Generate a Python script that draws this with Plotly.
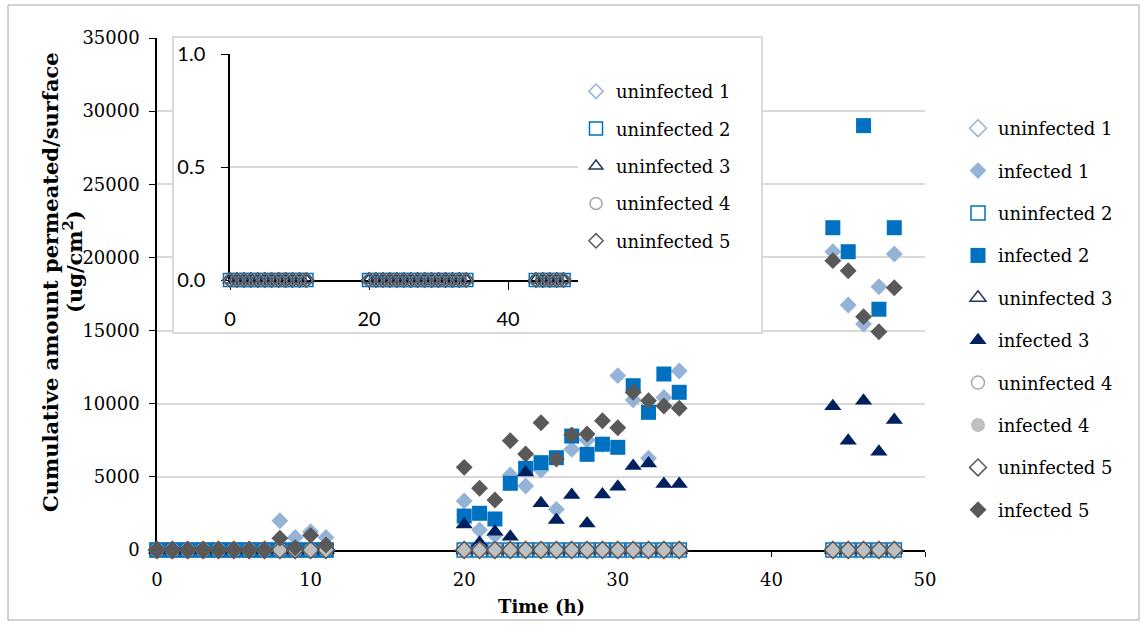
import plotly.graph_objects as go

# ---------------- data ----------------
time_h = [0, 1, 2, 3, 4, 5, 6, 7, 8, 9, 10, 11,
          20, 21, 22, 23, 24, 25, 26, 27, 28, 29, 30, 31, 32, 33, 34,
          44, 45, 46, 47, 48]

zeros = [0, 0, 0, 0, 0, 0, 0, 0, 0, 0, 0, 0,
         0, 0, 0, 0, 0, 0, 0, 0, 0, 0, 0, 0, 0, 0, 0,
         0, 0, 0, 0, 0]

uninfected_1 = zeros
uninfected_2 = zeros
uninfected_3 = zeros
uninfected_4 = zeros
uninfected_5 = zeros

infected_1 = [0, 0, 0, 0, 0, 0, 0, 0, 2000, 850, 1250, 850,
              3350, 1370, 1000, 5130, 4380, 5470, 2780, 6880, 7520, 7200, 11920, 10260, 6270, 10420, 12240,
              20390, 16750, 15450, 18000, 20230]
infected_2 = [0, 0, 0, 0, 0, 0, 0, 0, 0, 0, 0, 0,
              2320, 2510, 2120, 4560, 5580, 5970, 6310, 7790, 6540, 7230, 7020, 11230, 9410, 12030, 10780,
              22030, 20390, 29010, 16460, 22030]
infected_3 = [0, 0, 0, 0, 0, 0, 0, 0, 0, 0, 0, 0,
              1750, 500, 1250, 900, 5290, 3190, 2050, 3760, 1820, 3800, 4330, 5740, 5920, 4510, 4510,
              9820, 7470, 10210, 6720, 8890]
infected_4 = zeros
infected_5 = [0, 0, 0, 0, 0, 0, 0, 0, 800, 150, 1000, 340,
              5650, 4220, 3420, 7470, 6560, 8700, 6220, 7860, 7930, 8840, 8360, 10780, 10210, 9840, 9690,
              19780, 19090, 15950, 14920, 17930]

y_ticks_main = [0, 5000, 10000, 15000, 20000, 25000, 30000, 35000]
x_ticks_main = [0, 10, 20, 30, 40, 50]
y_ticks_inset = [0.0, 0.5, 1.0]
x_ticks_inset = [0, 20, 40]

# ---------------- styles ----------------
SERIF = "DejaVu Serif"
C1, C2, C3, C4, C5 = "#95B3D7", "#0070C0", "#002060", "#BFBFBF", "#595959"
C3o, C4o = "#1F3864", "#A6A6A6"

main_series = [
    ("uninfected 1", uninfected_1, dict(symbol="diamond-open", size=13, color=C1, line=dict(color=C1, width=1.5))),
    ("infected 1", infected_1, dict(symbol="diamond", size=13, color=C1, line=dict(width=0))),
    ("uninfected 2", uninfected_2, dict(symbol="square-open", size=14, color=C2, line=dict(color=C2, width=1.5))),
    ("infected 2", infected_2, dict(symbol="square", size=15, color=C2, line=dict(width=0))),
    ("uninfected 3", uninfected_3, dict(symbol="triangle-up-open", size=14, color=C3o, line=dict(color=C3o, width=1.5))),
    ("infected 3", infected_3, dict(symbol="triangle-up", size=15, color=C3, line=dict(width=0))),
    ("uninfected 4", uninfected_4, dict(symbol="circle-open", size=13, color=C4o, line=dict(color=C4o, width=1.5))),
    ("infected 4", infected_4, dict(symbol="circle", size=14, color=C4, line=dict(width=0))),
    ("uninfected 5", uninfected_5, dict(symbol="diamond-open", size=13, color=C5, line=dict(color=C5, width=1.5))),
    ("infected 5", infected_5, dict(symbol="diamond", size=13, color=C5, line=dict(width=0))),
]

inset_series = [
    ("uninfected 1", uninfected_1, dict(symbol="diamond-open", size=11, color=C1, line=dict(color=C1, width=1.5))),
    ("uninfected 2", uninfected_2, dict(symbol="square-open", size=13, color=C2, line=dict(color=C2, width=1.5))),
    ("uninfected 3", uninfected_3, dict(symbol="triangle-up-open", size=12, color=C3o, line=dict(color=C3o, width=1.5))),
    ("uninfected 4", uninfected_4, dict(symbol="circle-open", size=12, color=C4o, line=dict(color=C4o, width=1.5))),
    ("uninfected 5", uninfected_5, dict(symbol="diamond-open", size=11, color=C5, line=dict(color=C5, width=1.5))),
]

fig = go.Figure()

for i, (name, vals, mk) in enumerate(main_series):
    fig.add_trace(go.Scatter(x=time_h, y=vals, name=name, mode="markers", marker=mk,
                             cliponaxis=False, legend="legend", legendgroup="m%d" % i,
                             xaxis="x", yaxis="y"))

# white inset box (own subplot so it covers main gridlines)
fig.add_trace(go.Scatter(x=[], y=[], xaxis="x2", yaxis="y2", showlegend=False, hoverinfo="skip"))

for i, (name, vals, mk) in enumerate(inset_series):
    fig.add_trace(go.Scatter(x=time_h, y=vals, name=name, mode="markers", marker=mk,
                             cliponaxis=False, legend="legend2", legendgroup="i%d" % i,
                             xaxis="x3", yaxis="y3"))

W, H = 1142, 625
L, R, T, B = 157, 217, 38, 75
pw, ph = W - L - R, H - T - B


def px(xp):
    return (xp - L) / pw


def py(yp):
    return (H - B - yp) / ph


fig.update_layout(
    width=W, height=H, autosize=False,
    margin=dict(l=L, r=R, t=T, b=B),
    paper_bgcolor="white", plot_bgcolor="white",
    font=dict(family=SERIF, size=18, color="black"),
    xaxis=dict(domain=[0, 1], range=[0, 50], tickvals=x_ticks_main, showgrid=False, zeroline=False,
               showline=True, linecolor="black", linewidth=1.5, ticks="outside", ticklen=5,
               tickcolor="black", layer="below traces", ticklabelstandoff=8,
               tickfont=dict(family=SERIF, size=18, color="black")),
    yaxis=dict(domain=[0, 1], range=[0, 35000], tickvals=y_ticks_main, tickformat="d",
               showgrid=True, gridcolor="#D9D9D9", gridwidth=1.5, zeroline=False,
               showline=True, linecolor="black", linewidth=1.5, ticks="outside", ticklen=6,
               tickcolor="black", layer="below traces", ticklabelstandoff=6,
               tickfont=dict(family=SERIF, size=18, color="black")),
    xaxis2=dict(domain=[px(174), px(761)], range=[0, 1], anchor="y2", showgrid=False, zeroline=False,
                showticklabels=False, ticks="", showline=True, mirror=True, linecolor="#D9D9D9",
                linewidth=1.5, fixedrange=True),
    yaxis2=dict(domain=[py(332), py(38)], range=[0, 1], anchor="x2", showgrid=False, zeroline=False,
                showticklabels=False, ticks="", showline=True, mirror=True, linecolor="#D9D9D9",
                linewidth=1.5, fixedrange=True),
    xaxis3=dict(domain=[px(230), px(577.5)], range=[0, 50], anchor="y3", tickvals=x_ticks_inset,
                showgrid=False, zeroline=False, showline=True, linecolor="black", linewidth=1.5,
                ticks="outside", ticklen=8, tickcolor="black", layer="below traces",
                ticklabelstandoff=12, tickfont=dict(family="Lato", size=20, color="black")),
    yaxis3=dict(domain=[py(280), py(54)], range=[0, 1], anchor="x3", tickvals=y_ticks_inset,
                tickformat=".1f", showgrid=True, gridcolor="#D9D9D9", gridwidth=1.5, zeroline=False,
                showline=True, linecolor="black", linewidth=1.5, ticks="outside", ticklen=7,
                tickcolor="black", layer="below traces", ticklabelstandoff=12,
                tickfont=dict(family="Lato", size=20, color="black")),
    legend=dict(x=px(958), y=py(110), xanchor="left", yanchor="top", bgcolor="rgba(0,0,0,0)",
                traceorder="grouped", tracegroupgap=16, itemwidth=30,
                font=dict(family=SERIF, size=18, color="black")),
    legend2=dict(x=px(576), y=py(73), xanchor="left", yanchor="top", bgcolor="rgba(0,0,0,0)",
                 traceorder="grouped", tracegroupgap=11, itemwidth=30,
                 font=dict(family=SERIF, size=18, color="black")),
    showlegend=True,
    shapes=[dict(type="rect", xref="paper", yref="paper", x0=px(8), x1=px(1139), y0=py(620), y1=py(5),
                 line=dict(color="#A6A6A6", width=1), fillcolor="rgba(0,0,0,0)", layer="below")],
    annotations=[
        dict(text="<b>Cumulative amount permeated/surface</b>", xref="paper", yref="paper",
             x=px(50), y=py(282), xanchor="center", yanchor="middle", textangle=-90, showarrow=False,
             font=dict(family=SERIF, size=21, color="black")),
        dict(text="<b>(ug/cm<sup>2</sup>)</b>", xref="paper", yref="paper",
             x=px(73), y=py(262), xanchor="center", yanchor="middle", textangle=-90, showarrow=False,
             font=dict(family=SERIF, size=21, color="black")),
        dict(text="<b>Time (h)</b>", xref="paper", yref="paper",
             x=px(541), y=py(606), xanchor="center", yanchor="middle", showarrow=False,
             font=dict(family=SERIF, size=18, color="black")),
    ],
)

fig.write_html("out.html")
